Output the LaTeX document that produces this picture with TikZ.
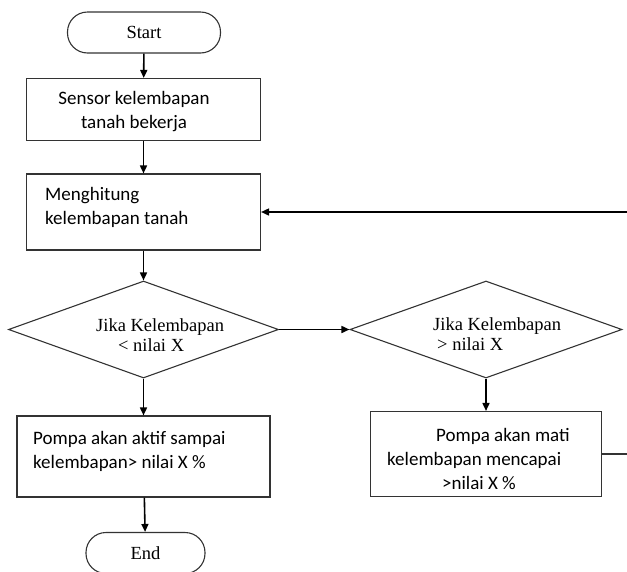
\documentclass[tikz,border=0pt]{standalone}
\usepackage{fontspec}
\setmainfont{Liberation Serif}
\newfontfamily\calibri{Carlito}
\usetikzlibrary{arrows.meta,shapes.geometric}

\begin{document}
\begin{tikzpicture}[
        x=1pt, y=-1pt,
        font=\fontsize{18.5}{20}\selectfont,
        term/.style={draw=black!80, line width=1.1pt, rounded corners=20pt,
            minimum height=41pt, inner sep=0pt},
        box/.style={draw=black!80, line width=1.1pt, inner sep=0pt},
        cond/.style={draw=black!80, line width=1.1pt, diamond, aspect=1,
            inner sep=0pt},
        txt/.style={font=\calibri\fontsize{19}{24}\selectfont, align=left,
            inner sep=0pt},
        flow/.style={-{Triangle[length=8pt,width=7pt]}, line width=1.6pt}
    ]

    \useasboundingbox (0,0) rectangle (627,571);

    % ---------- kotak-kotak ----------
    \node[term, minimum width=153pt] (start) at (144,32.5) {Start};

    \node[box, minimum width=234pt, minimum height=62pt] (sensor) at (143.5,109.5) {};
    \node[txt, align=center] (sensorTxt) at (134,112) {Sensor kelembapan\\tanah bekerja};

    \node[box, minimum width=234pt, minimum height=76pt] (hitung) at (143.5,212) {};
    \node[txt, anchor=west] (hitungTxt) at (45,207) {Menghitung\\kelembapan tanah};

    % ---------- keputusan ----------
    \node[cond, minimum width=270pt, minimum height=97pt] (cekBawah) at (143.5,329.5) {};
    \node[anchor=west, align=left, inner sep=0pt] (cekBawahTxt) at (96,335)
        {Jika Kelembapan\\\hspace*{22pt}< nilai X};

    \node[cond, minimum width=272pt, minimum height=97pt] (cekAtas) at (486,329.5) {};
    \node[anchor=west, align=left, inner sep=0pt] (cekAtasTxt) at (433,334)
        {Jika Kelembapan\\\hspace*{4pt}> nilai X};

    % ---------- pompa ----------
    \node[box, minimum width=253pt, minimum height=81pt] (aktif) at (143.5,456.5) {};
    \node[txt, anchor=west] (aktifTxt) at (33,451) {Pompa akan aktif sampai\\kelembapan> nilai X \%};

    \node[box, minimum width=231pt, minimum height=85pt] (mati) at (486,454) {};
    \node[txt, anchor=west] (matiTxt) at (387,459)
        {\hspace*{49pt}Pompa akan mati\\kelembapan mencapai\\\hspace*{55pt}>nilai X \%};

    \node[term, minimum width=119pt] (end) at (145.5,553) {End};

    % ---------- panah ----------
    \coordinate (balik) at (627,212);
    \coordinate (keluar) at (627,454);

    \draw[flow] (start) -- (sensor);
    \draw[flow] (sensor) -- (hitung);
    \draw[flow] (hitung) -- (cekBawah.north);
    \draw[flow] (cekBawah.south) -- (aktif);
    \draw[flow] (aktif) -- (end);
    \draw[flow] (cekBawah.east) -- (cekAtas.west);
    \draw[flow] (cekAtas.south) -- (mati);
    \draw[flow] (balik) -- (hitung.east);
    \draw[line width=1.1pt, black!80] (mati.east) -- (keluar);

\end{tikzpicture}
\end{document}
